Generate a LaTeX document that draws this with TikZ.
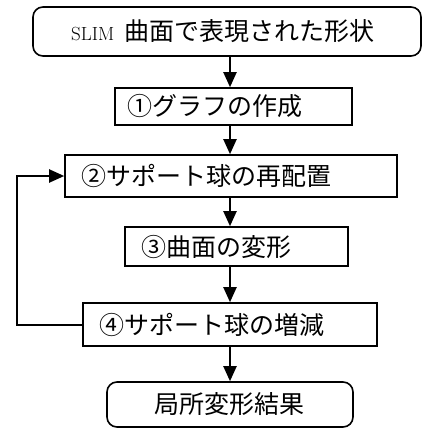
\documentclass[tikz,border=0pt]{standalone}
\usepackage{fontspec}
\newfontfamily\jp{Noto Sans CJK JP}
\usetikzlibrary{arrows.meta}
\begin{document}
\begin{tikzpicture}[x=1pt,y=-1pt,
  box/.style={draw, line width=1.6pt, inner sep=0pt},
  rbox/.style={box, rounded corners=10pt},
  txt/.style={anchor=west, inner sep=0pt, font=\fontsize{25}{28}\selectfont\jp},
  arr/.style={line width=2pt, -{Triangle[length=15pt,width=13pt]}}]
\useasboundingbox (0,0) rectangle (422,428);
\coordinate (ax) at (230,0);
\node[rbox, minimum width=388pt, minimum height=49pt] (b1) at (227,31.5) {};
\node[anchor=west, inner sep=0pt, font=\rmfamily\fontsize{19}{23}\selectfont] (t1) at (71,31.5) {SLIM\hspace{10pt}{\jp\fontsize{25}{28}\selectfont 曲面で表現された形状}};
\node[box, minimum width=237pt, minimum height=37pt] (b2) at (233.5,106.5) {};
\node[txt] (t2) at (127,106.5) {①グラフの作成};
\node[box, minimum width=332pt, minimum height=42pt] (b3) at (231,176) {};
\node[txt] (t3) at (81,176) {②サポート球の再配置};
\node[box, minimum width=223pt, minimum height=39pt] (b4) at (236.5,246.5) {};
\node[txt] (t4) at (141,246.5) {③曲面の変形};
\node[box, minimum width=294pt, minimum height=43pt] (b5) at (230,324.5) {};
\node[txt] (t5) at (99,324.5) {④サポート球の増減};
\node[rbox, minimum width=246pt, minimum height=45pt] (b6) at (230,404.5) {};
\node[txt] (t6) at (154,404.5) {局所変形結果};
\draw[arr] (b1.south -| ax) -- (b2.north -| ax);
\draw[arr] (b2.south -| ax) -- (b3.north -| ax);
\draw[arr] (b3.south -| ax) -- (b4.north -| ax);
\draw[arr] (b4.south -| ax) -- (b5.north -| ax);
\draw[arr] (b5.south -| ax) -- (b6.north -| ax);
\coordinate (lx) at (17,0);
\draw[arr] (b5.west) -- (b5.west -| lx) -- (b3.west -| lx) -- (b3.west);
\end{tikzpicture}
\end{document}
